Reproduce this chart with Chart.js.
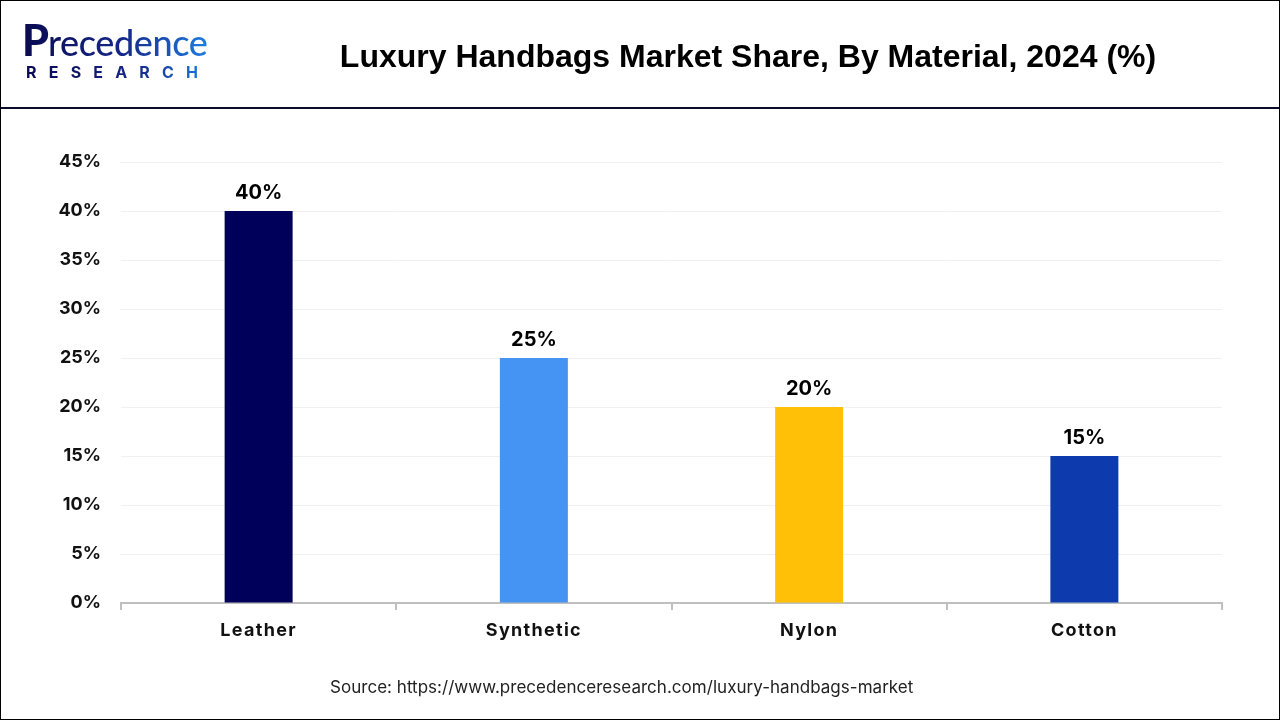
<!DOCTYPE html>
<html>
<head>
<meta charset="utf-8">
<title>Luxury Handbags Market Share</title>
<script src="https://cdn.jsdelivr.net/npm/chart.js@4/dist/chart.umd.min.js"></script>
<style>
    html, body { margin: 0; padding: 0; background: #fff; }
    #page { position: relative; width: 1280px; height: 720px; overflow: hidden; background: #fff; }
    #frame { position: absolute; left: 0; top: 0; width: 1278px; height: 718px; border: 1px solid #000; pointer-events: none; }
    #rule { position: absolute; left: 0; top: 107px; width: 1280px; height: 2px; background: #0a0a2a; }
    #title { position: absolute; left: 248px; top: 38px; width: 1000px; text-align: center; white-space: nowrap;
        font: bold 32px "Liberation Sans", Arial, sans-serif; color: #000; }
    #logo1 { position: absolute; left: 22px; top: 14px; font: 500 36px Lato, sans-serif; white-space: nowrap; letter-spacing: -0.4px;
        background: linear-gradient(90deg, #0a0a50 0%, #14288a 55%, #1f7be0 100%);
        -webkit-background-clip: text; background-clip: text; color: transparent; }
    #logo1 span { font-weight: 900; font-size: 43px; letter-spacing: -1px; }
    #logo2 { position: absolute; left: 26px; top: 62px; font: bold 16px Inter, sans-serif; white-space: nowrap; letter-spacing: 12.2px;
        background: linear-gradient(90deg, #0a0a50 0%, #14288a 60%, #1f7be0 100%);
        -webkit-background-clip: text; background-clip: text; color: transparent; }
    #source { position: absolute; left: 330px; top: 677px; font: 17px Inter, sans-serif; letter-spacing: 0.03px; color: #222; white-space: nowrap; }
    canvas { position: absolute; left: 0; top: 0; }
</style>
</head>
<body>
<div id="page">
    <canvas id="bar_chart" width="1280" height="720"></canvas>
    <div id="rule"></div>
    <div id="logo1"><span>P</span>recedence</div>
    <div id="logo2">RESEARCH</div>
    <div id="title">Luxury Handbags Market Share, By Material, 2024 (%)</div>
    <div id="source">Source: https://www.precedenceresearch.com/luxury-handbags-market</div>
    <div id="frame"></div>
</div>
<script>
const materials = ['Leather', 'Synthetic', 'Nylon', 'Cotton'];
const shareValues = [40, 25, 20, 15];
const barColors = ['#00005a', '#4593f2', '#ffc007', '#0d3aad'];

// value labels above the bars, x tick labels (z: 1) get drawn right after this
const valueLabels = {
    id: 'valueLabels',
    afterDatasetsDraw(chart) {
        const ctx = chart.ctx;
        ctx.save();
        ctx.font = 'bold 20px Inter, sans-serif';
        ctx.fillStyle = '#000';
        ctx.textAlign = 'center';
        ctx.textBaseline = 'bottom';
        chart.getDatasetMeta(0).data.forEach(function (bar, i) {
            ctx.fillText(shareValues[i] + '%', bar.x, bar.y - 8);
        });
        ctx.restore();
        ctx.letterSpacing = '1.3px';
    },
    afterDraw(chart) {
        chart.ctx.letterSpacing = '0px';
    }
};

const ctx1 = document.getElementById('bar_chart').getContext('2d');
var chart1 = new Chart(ctx1, {
    type: 'bar',
    data: {
        labels: materials,
        datasets: [{
            label: 'Market share',
            data: shareValues,
            backgroundColor: barColors,
            barPercentage: 1,
            categoryPercentage: 0.247
        }]
    },
    options: {
        responsive: false,
        animation: false,
        layout: { padding: { top: 162, right: 58, left: 0, bottom: 0 } },
        plugins: { legend: { display: false }, tooltip: { enabled: false } },
        scales: {
            x: {
                afterFit(scale) { scale.height = 117; },
                border: { color: '#bfbfbf', width: 2 },
                grid: { offset: true, drawOnChartArea: false, color: '#bfbfbf', lineWidth: 2, tickLength: 7 },
                ticks: { z: 1, color: '#111', padding: 10, maxRotation: 0, font: { family: 'Inter, sans-serif', size: 18, weight: 'bold' } }
            },
            y: {
                min: 0,
                max: 45,
                afterFit(scale) { scale.width = 121; },
                border: { display: false },
                grid: { color: '#f0f0f0', lineWidth: 1, drawTicks: false },
                ticks: {
                    stepSize: 5,
                    padding: 20,
                    color: '#111',
                    font: { family: 'Inter, sans-serif', size: 18, weight: 'bold' },
                    callback: function (value) { return value + '%'; }
                }
            }
        }
    },
    plugins: [valueLabels]
});
</script>
</body>
</html>
